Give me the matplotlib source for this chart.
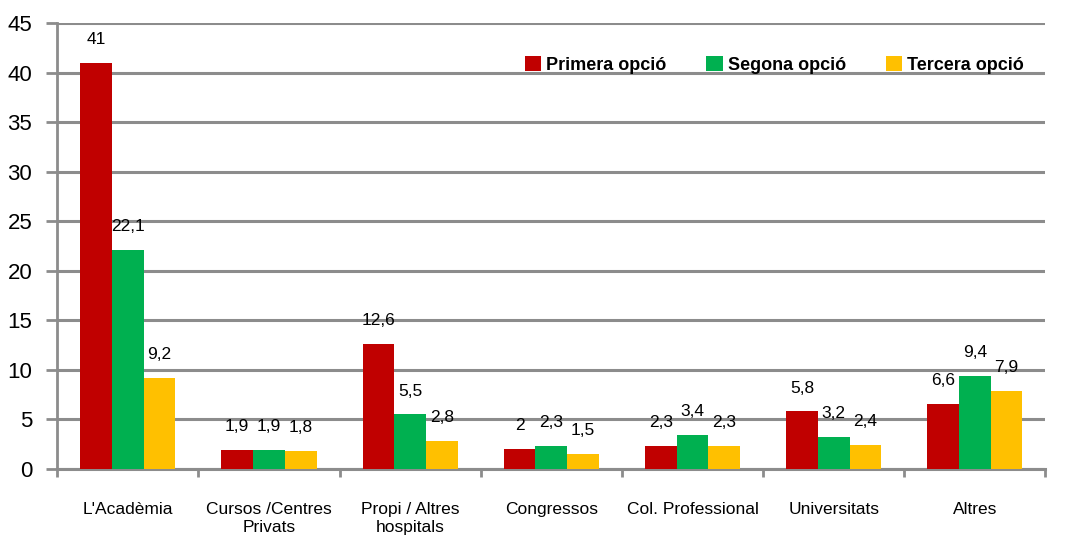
import matplotlib.pyplot as plt
import numpy as np

plt.rcParams['font.family'] = ['Liberation Sans', 'DejaVu Sans']

categories = ["L'Acadèmia", "Cursos /Centres\nPrivats", "Propi / Altres\nhospitals",
              "Congressos", "Col. Professional", "Universitats", "Altres"]
primera = [41, 1.9, 12.6, 2, 2.3, 5.8, 6.6]
segona = [22.1, 1.9, 5.5, 2.3, 3.4, 3.2, 9.4]
tercera = [9.2, 1.8, 2.8, 1.5, 2.3, 2.4, 7.9]
series_names = ["Primera opció", "Segona opció", "Tercera opció"]
colors = ["#c00000", "#00b050", "#ffc000"]

fig = plt.figure(figsize=(10.8, 5.39), dpi=100)
ax = fig.add_axes([0.053, 0.13, 0.915, 0.827])

x = np.arange(len(categories))
w = 0.225
grid_c = "#8c8c8c"

for i, (vals, name, c) in enumerate(zip([primera, segona, tercera], series_names, colors)):
    pos = x + (i - 1) * w
    ax.bar(pos, vals, width=w, color=c, label=name, zorder=3)
    for p, v in zip(pos, vals):
        txt = ("%g" % v).replace(".", ",")
        ax.text(p, v + 1.6, txt, ha="center", va="bottom", fontsize=12.5, zorder=4)

ax.set_xlim(-0.5, len(categories) - 0.5)
ax.set_ylim(0, 45)
ax.set_yticks(range(0, 46, 5))
ax.yaxis.grid(True, color=grid_c, linewidth=2.2, zorder=0)
ax.set_axisbelow(True)

for s in ["top", "right"]:
    ax.spines[s].set_visible(False)
ax.spines["left"].set_color(grid_c)
ax.spines["left"].set_linewidth(2)
ax.spines["bottom"].set_color(grid_c)
ax.spines["bottom"].set_linewidth(2.2)

ax.set_xticks(np.arange(-0.5, len(categories), 1))
ax.set_xticklabels([])
ax.set_xticks(x, minor=True)
ax.set_xticklabels(categories, minor=True, fontsize=12.5)
ax.tick_params(axis="x", which="major", length=6, width=2, color=grid_c)
ax.tick_params(axis="x", which="minor", length=0, pad=24)
ax.tick_params(axis="y", length=8, width=2, color=grid_c, labelsize=16, pad=10)

ax.legend(loc="upper right", bbox_to_anchor=(0.995, 0.962), ncol=3, frameon=False,
          prop={"weight": "bold", "size": 13}, handlelength=0.9, handleheight=0.9,
          handletextpad=0.3, columnspacing=2.2)

fig.savefig("out.png", dpi=100)
